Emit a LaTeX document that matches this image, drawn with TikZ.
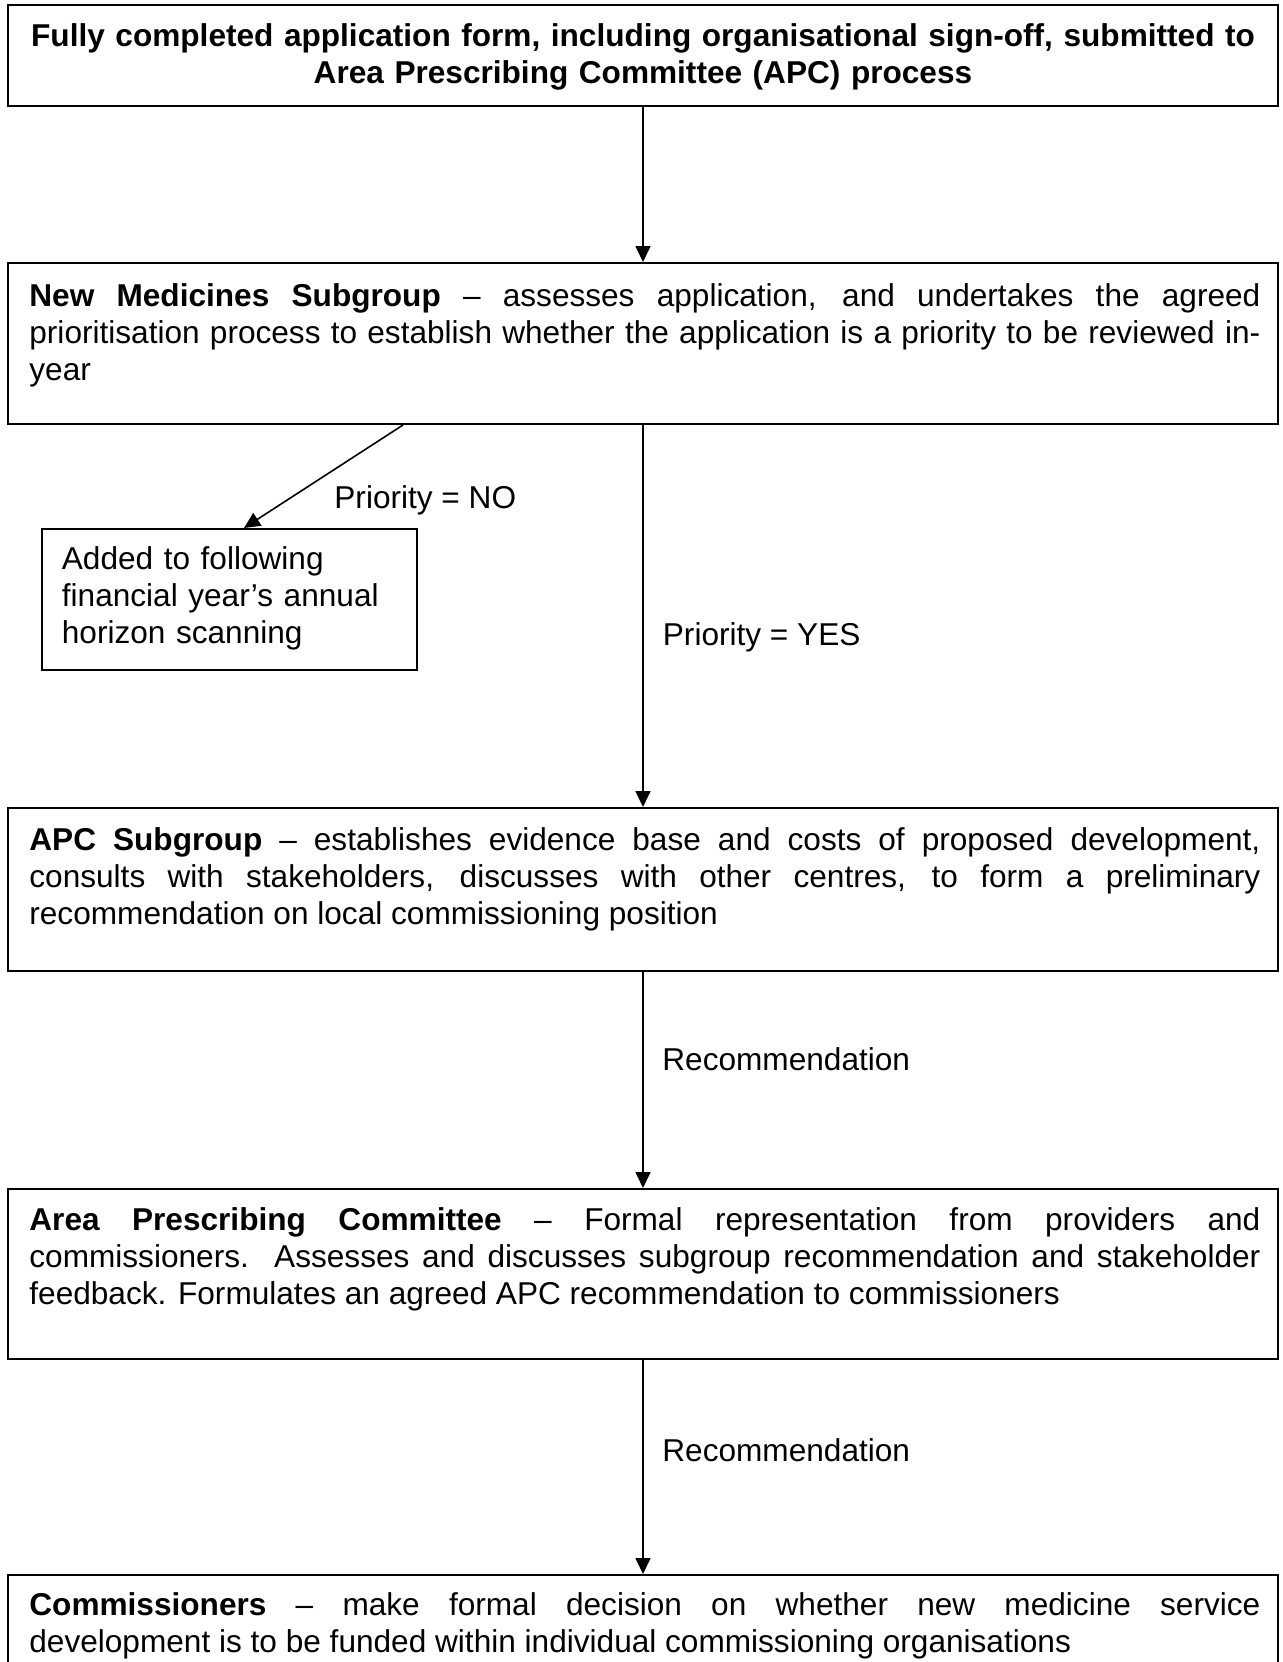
\documentclass[tikz,border=0pt]{standalone}
\usepackage{fontspec}
\setmainfont{Liberation Sans}
\usetikzlibrary{arrows.meta,calc}
\begin{document}
\begin{tikzpicture}[x=0.5pt,y=-0.5pt,
  box/.style={draw,line width=1pt,rectangle,inner sep=0pt,minimum width=635pt},
  txtfont/.style={font=\fontsize{15.8}{18.5}\selectfont},
  txt/.style={txtfont,inner sep=0pt,anchor=base west,text width=615.5pt,align=justify},
  lbl/.style={txtfont,inner sep=0pt,anchor=base west},
  arr/.style={line width=0.8pt,-{Triangle[length=8pt,width=7.5pt]}}]
\clip (0,0) rectangle (1282,1662);
\fill[white] (0,0) rectangle (1282,1662);
% boxes
\node[box,minimum height=50.5pt] (b1) at (643,55.5) {};
\node[box,minimum height=80.5pt] (b2) at (643,343.5) {};
\node[box,minimum height=81.5pt] (b3) at (643,889.5) {};
\node[box,minimum height=85pt] (b4) at (643,1274) {};
\node[box,minimum height=90pt] (b5) at (643,1665) {};
\node[draw,line width=1pt,inner sep=0pt,minimum width=187.5pt,minimum height=70.5pt] (sb) at (229.5,599.5) {};
% texts
\node[txtfont,inner sep=0pt,anchor=base,text width=615.5pt,align=center] (t1) at (643,46)
  {\bfseries Fully completed application form, including organisational sign-off, submitted to\\ Area Prescribing Committee (APC) process};
\node[txt] (t2) at (29,306) {\textbf{New Medicines Subgroup} – assesses application, and undertakes the agreed\linebreak prioritisation process to establish whether the application is a priority to be reviewed in-\linebreak year};
\node[txt] (t3) at (29,850) {\textbf{APC Subgroup} – establishes evidence base and costs of proposed development,\linebreak consults with stakeholders, discusses with other centres, to form a preliminary\linebreak recommendation on local commissioning position};
\node[txt] (t4) at (29,1230) {\textbf{Area Prescribing Committee} – Formal representation from providers and\linebreak commissioners.\ \ Assesses and discusses subgroup recommendation and stakeholder\linebreak feedback. Formulates an agreed APC recommendation to commissioners};
\node[txt] (t5) at (29,1615.5) {\textbf{Commissioners} – make formal decision on whether new medicine service\linebreak development is to be funded within individual commissioning organisations};
\node[txtfont,inner sep=0pt,anchor=base west,text width=175pt,align=left] (ts) at (61.5,569) {Added to following\\ financial year’s annual\\ horizon scanning};
% labels
\node[lbl] (lno) at (334,508) {Priority = NO};
\node[lbl] (lyes) at (662.5,645.7) {Priority = YES};
\node[lbl] (lr1) at (662,1070) {Recommendation};
\node[lbl] (lr2) at (662,1461) {Recommendation};
% connectors
\draw[arr] (b1.south) -- (b2.north);
\draw[arr] ($(b2.south west)+(396,0)$) -- ($(sb.north west)+(203,0)$);
\draw[arr] (b2.south) -- (b3.north);
\draw[arr] (b3.south) -- (b4.north);
\draw[arr] (b4.south) -- (b5.north);
\end{tikzpicture}
\end{document}
